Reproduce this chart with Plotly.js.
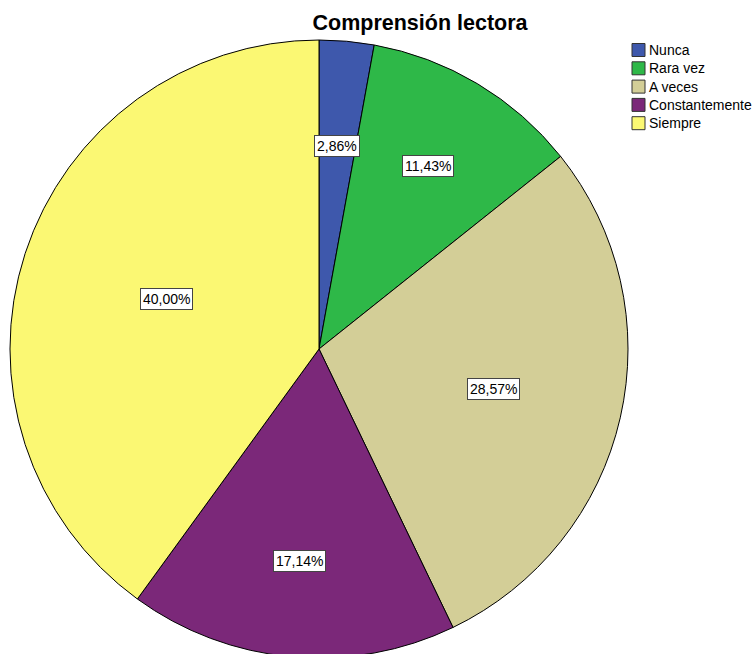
<!DOCTYPE html>
<html>
<head>
<meta charset="utf-8">
<script src="https://cdn.plot.ly/plotly-3.0.1.min.js"></script>
<style>
html,body{margin:0;padding:0;overflow:hidden;background:#fff;}
#chart{width:756px;height:660px;}
</style>
</head>
<body>
<div id="chart"></div>
<script>
// ---- data ----
var categories = ["Nunca", "Rara vez", "A veces", "Constantemente", "Siempre"];
var percents = [2.86, 11.43, 28.57, 17.14, 40.00];
var titleText = "Comprensión lectora";

// ---- styles ----
var colors = ["#3E58AC", "#2EB848", "#D3CE97", "#7B2879", "#FBF873"];
var labelDist = [0.66, 0.69, 0.58, 0.69, 0.52]; // radial placement of value boxes

var W = 756, H = 660;
var M = {l: 10, r: 0, t: 40, b: 2};
var PW = W - M.l - M.r, PH = H - M.t - M.b;
var R = Math.min(PW, PH) / 2;
var domX = [0, (2 * R) / PW];
var cx = M.l + R, cy = M.t + R;

function toPaperX(px) { return (px - M.l) / PW; }
function toPaperY(py) { return 1 - (py - M.t) / PH; }
function fmt(v) { return v.toFixed(2).replace('.', ',') + '%'; }

var total = percents.reduce(function (a, b) { return a + b; }, 0);
var annotations = [];
var cum = 0;
percents.forEach(function (v, i) {
  var mid = (cum + v / 2) / total * 2 * Math.PI;
  cum += v;
  var r = labelDist[i] * R;
  var px = cx + r * Math.sin(mid);
  var py = cy - r * Math.cos(mid);
  annotations.push({
    x: toPaperX(px), y: toPaperY(py), xref: 'paper', yref: 'paper',
    text: fmt(v), showarrow: false,
    xanchor: 'center', yanchor: 'middle',
    font: {family: 'Liberation Sans, Arial, sans-serif', size: 14, color: '#000'},
    bgcolor: '#ffffff', bordercolor: '#444444', borderwidth: 1, borderpad: 2
  });
});

// custom legend
var shapes = [];
var legX = 632, legY0 = 50, legStep = 18.3, sw = 13;
categories.forEach(function (c, i) {
  var yc = legY0 + i * legStep;
  shapes.push({
    type: 'rect', xref: 'paper', yref: 'paper',
    x0: toPaperX(legX), x1: toPaperX(legX + sw),
    y0: toPaperY(yc - sw / 2), y1: toPaperY(yc + sw / 2),
    fillcolor: colors[i], line: {color: '#333333', width: 1}
  });
  annotations.push({
    x: toPaperX(legX + sw + 2), y: toPaperY(yc), xref: 'paper', yref: 'paper',
    text: c, showarrow: false, xanchor: 'left', yanchor: 'middle',
    font: {family: 'Liberation Sans, Arial, sans-serif', size: 14, color: '#000'}
  });
});

var trace = {
  type: 'pie',
  labels: categories,
  values: percents,
  sort: false,
  direction: 'clockwise',
  rotation: 0,
  textinfo: 'none',
  hoverinfo: 'label+percent',
  marker: {colors: colors, line: {color: '#000000', width: 1}},
  domain: {x: domX, y: [0, 1]}
};

var layout = {
  width: W, height: H,
  margin: M,
  showlegend: false,
  paper_bgcolor: '#ffffff',
  title: {
    text: '<b>' + titleText + '</b>',
    x: 420 / W, xref: 'container', xanchor: 'center',
    y: 1 - 22 / H, yref: 'container', yanchor: 'middle',
    font: {family: 'Liberation Sans, Arial, sans-serif', size: 21.5, color: '#000'}
  },
  annotations: annotations,
  shapes: shapes
};

Plotly.newPlot('chart', [trace], layout, {displayModeBar: false, staticPlot: true});
</script>
</body>
</html>
